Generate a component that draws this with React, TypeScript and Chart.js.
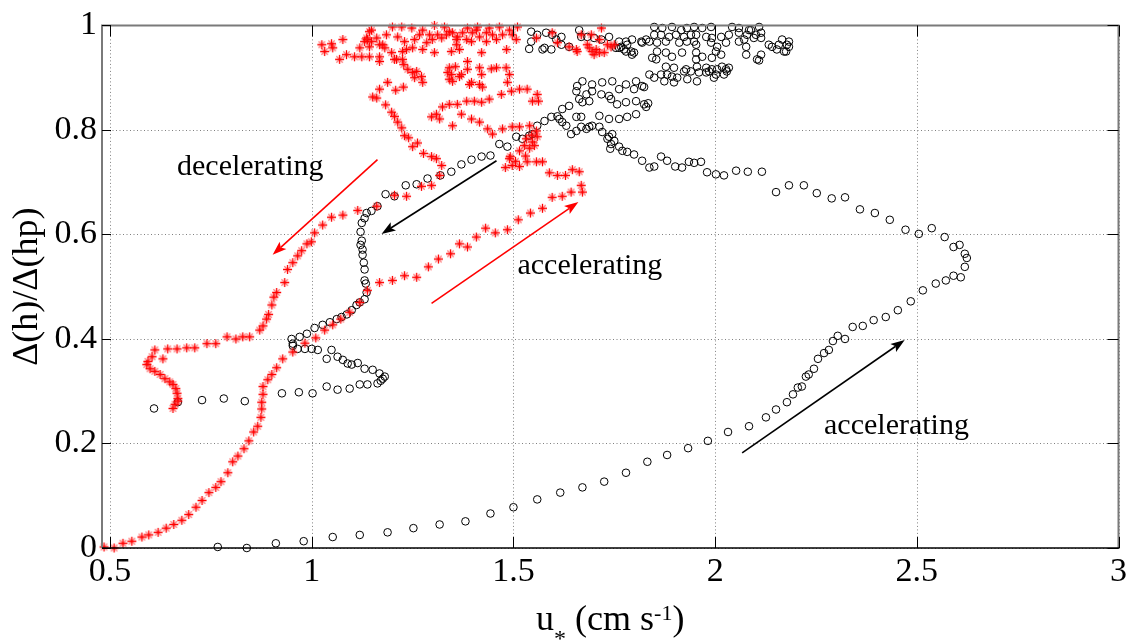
import React, { useEffect, useRef } from "react";
import { Chart, registerables } from "chart.js";

Chart.register(...registerables);

const SERIF = '"Liberation Serif", "Times New Roman", serif';

// Axis ticks
const xTickValues = [0.5, 1, 1.5, 2, 2.5, 3];
const xTickLabels = ["0.5", "1", "1.5", "2", "2.5", "3"];
const yTickValues = [0, 0.2, 0.4, 0.6, 0.8, 1];
const yTickLabels = ["0", "0.2", "0.4", "0.6", "0.8", "1"];

// Red run (*): [u*, Δ(h)/Δ(hp)]
const redRise: [number, number][] = [
  [0.485, 0.002], [0.51, 0.0], [0.532, 0.009], [0.554, 0.013], [0.579, 0.021],
  [0.596, 0.025], [0.619, 0.03], [0.639, 0.038], [0.658, 0.045], [0.678, 0.053],
  [0.695, 0.064], [0.713, 0.078], [0.728, 0.091], [0.745, 0.106], [0.762, 0.116],
  [0.775, 0.127], [0.792, 0.144], [0.804, 0.165], [0.817, 0.176], [0.832, 0.19],
  [0.844, 0.205], [0.856, 0.222], [0.866, 0.233], [0.874, 0.25], [0.876, 0.266],
  [0.876, 0.279], [0.879, 0.294], [0.879, 0.309], [0.891, 0.322], [0.901, 0.332],
  [0.913, 0.345], [0.928, 0.362], [0.953, 0.375], [0.983, 0.392], [1.01, 0.402],
  [1.032, 0.417], [1.052, 0.427], [1.072, 0.438], [1.094, 0.451], [1.119, 0.47],
  [1.138, 0.493], [1.168, 0.508], [1.2, 0.512], [1.23, 0.521], [1.26, 0.518],
  [1.289, 0.538], [1.314, 0.553], [1.344, 0.563], [1.366, 0.582], [1.386, 0.576],
  [1.408, 0.595], [1.431, 0.612], [1.455, 0.603], [1.485, 0.609], [1.512, 0.628],
  [1.542, 0.641], [1.572, 0.65], [1.596, 0.671], [1.621, 0.673], [1.643, 0.681],
  [1.671, 0.681], [1.668, 0.694],
];

const redLoop: [number, number][] = [
  [1.663, 0.72], [1.646, 0.724], [1.629, 0.713], [1.609, 0.713], [1.589, 0.718],
  [1.572, 0.739], [1.557, 0.739], [1.534, 0.739], [1.515, 0.73], [1.497, 0.732],
  [1.48, 0.728], [1.492, 0.749], [1.49, 0.745], [1.505, 0.74], [1.53, 0.75],
  [1.515, 0.76], [1.54, 0.765], [1.527, 0.77], [1.552, 0.77], [1.547, 0.777],
  [1.532, 0.783], [1.559, 0.787], [1.545, 0.79], [1.557, 0.798], [1.54, 0.808],
  [1.515, 0.806], [1.497, 0.806], [1.473, 0.802], [1.448, 0.792], [1.436, 0.802],
  [1.416, 0.815], [1.396, 0.821], [1.371, 0.83], [1.349, 0.808], [1.317, 0.821],
  [1.297, 0.825], [1.309, 0.83], [1.324, 0.844], [1.341, 0.849], [1.361, 0.849],
  [1.384, 0.855], [1.403, 0.855], [1.421, 0.853], [1.44, 0.859], [1.47, 0.868],
  [1.495, 0.874], [1.515, 0.878], [1.534, 0.878], [1.559, 0.868], [1.562, 0.855],
  [1.547, 0.855], [1.485, 0.891], [1.49, 0.906], [1.482, 0.919], [1.458, 0.919],
  [1.445, 0.917], [1.423, 0.882], [1.421, 0.906], [1.416, 0.919], [1.396, 0.891],
  [1.386, 0.916], [1.386, 0.931], [1.371, 0.906], [1.349, 0.893], [1.341, 0.897],
  [1.337, 0.91], [1.341, 0.919], [1.356, 0.921], [1.346, 0.906], [1.366, 0.902],
  [1.391, 0.887], [1.416, 0.887],
];

const redTop: [number, number][] = [
  [1.025, 0.963], [1.032, 0.95], [1.049, 0.965], [1.052, 0.957], [1.069, 0.935],
  [1.077, 0.973], [1.086, 0.944], [1.106, 0.94], [1.124, 0.94], [1.119, 0.957],
  [1.136, 0.976], [1.143, 0.988], [1.148, 0.969], [1.138, 0.973], [1.143, 0.959],
  [1.161, 0.976], [1.168, 0.963], [1.181, 0.957], [1.185, 0.982], [1.198, 0.948],
  [1.205, 0.935], [1.2, 0.997], [1.148, 0.991], [1.131, 0.969], [1.168, 0.94],
  [1.143, 0.94], [1.168, 0.931], [1.176, 0.963], [1.213, 0.978], [1.223, 0.997],
  [1.23, 0.969], [1.235, 0.954], [1.21, 0.935], [1.225, 0.935], [1.228, 0.925],
  [1.25, 0.957], [1.255, 0.973], [1.248, 0.995], [1.267, 0.982], [1.285, 0.967],
  [1.275, 0.954], [1.275, 0.991], [1.292, 0.982], [1.299, 0.973], [1.304, 1.0],
  [1.329, 0.997], [1.312, 0.982], [1.334, 0.982], [1.349, 0.986], [1.359, 0.973],
  [1.346, 0.95], [1.304, 0.948], [1.322, 0.976], [1.341, 0.988], [1.361, 0.978],
  [1.366, 0.954], [1.359, 0.963], [1.386, 0.995], [1.384, 0.973], [1.374, 0.986],
  [1.398, 0.986], [1.411, 0.997], [1.416, 0.978], [1.396, 0.969], [1.408, 0.991],
  [1.433, 0.986], [1.448, 0.982], [1.433, 0.969], [1.421, 0.948], [1.44, 0.995],
  [1.458, 0.973], [1.465, 0.997], [1.473, 0.982], [1.49, 0.991], [1.497, 0.982],
  [1.507, 0.973], [1.51, 0.997], [1.483, 0.954], [1.238, 0.916], [1.25, 0.91],
  [1.26, 0.912], [1.272, 0.902], [1.275, 0.891], [1.255, 0.9], [1.225, 0.95],
  [1.557, 0.976], [1.596, 0.986], [1.609, 0.967], [1.638, 0.959], [1.658, 0.95],
  [1.668, 0.982], [1.693, 0.982], [1.688, 0.957], [1.695, 0.95], [1.7, 0.944],
  [1.713, 0.948], [1.725, 0.948], [1.718, 0.995], [1.713, 0.973], [1.733, 0.963],
  [1.742, 0.959], [1.75, 0.963], [1.683, 0.963], [1.705, 0.954], [1.656, 0.954],
];

const redFall: [number, number][] = [
  [1.227, 0.882], [1.208, 0.876], [1.188, 0.891], [1.168, 0.878], [1.161, 0.861],
  [1.151, 0.863], [1.183, 0.848], [1.198, 0.834], [1.205, 0.826], [1.213, 0.815],
  [1.223, 0.804], [1.23, 0.789], [1.24, 0.785], [1.25, 0.768], [1.262, 0.775],
  [1.277, 0.755], [1.297, 0.749], [1.309, 0.745], [1.322, 0.732], [1.317, 0.713],
  [1.297, 0.694], [1.272, 0.692], [1.235, 0.673], [1.205, 0.675], [1.161, 0.654],
  [1.114, 0.646], [1.077, 0.637], [1.049, 0.633], [1.027, 0.618], [1.007, 0.603],
  [0.999, 0.586], [0.988, 0.582], [0.975, 0.569], [0.965, 0.559], [0.953, 0.546],
  [0.94, 0.533], [0.933, 0.508], [0.913, 0.489], [0.906, 0.48], [0.901, 0.465],
  [0.893, 0.447], [0.888, 0.438], [0.879, 0.425], [0.871, 0.417], [0.846, 0.404],
  [0.829, 0.404], [0.812, 0.4], [0.79, 0.404], [0.762, 0.391], [0.74, 0.391],
  [0.71, 0.383], [0.69, 0.383], [0.666, 0.381], [0.643, 0.381], [0.631, 0.362],
  [0.611, 0.379], [0.604, 0.366], [0.594, 0.357], [0.591, 0.351], [0.599, 0.343],
  [0.611, 0.338], [0.624, 0.332], [0.636, 0.324], [0.648, 0.318], [0.656, 0.313],
  [0.663, 0.305], [0.666, 0.296], [0.668, 0.286], [0.668, 0.281], [0.661, 0.275],
  [0.656, 0.267],
];

// Black run (o): [u*, Δ(h)/Δ(hp)]
const blackRise: [number, number][] = [
  [0.767, 0.002], [0.839, 0.0], [0.911, 0.009], [0.98, 0.013], [1.052, 0.021],
  [1.119, 0.025], [1.188, 0.03], [1.252, 0.038], [1.317, 0.045], [1.381, 0.051],
  [1.443, 0.066], [1.5, 0.078], [1.559, 0.093], [1.616, 0.106], [1.671, 0.116],
  [1.725, 0.127], [1.779, 0.144], [1.832, 0.165], [1.881, 0.178], [1.933, 0.191],
  [1.982, 0.205], [2.032, 0.222], [2.084, 0.233], [2.126, 0.25], [2.151, 0.265],
  [2.178, 0.279], [2.193, 0.294], [2.205, 0.307], [2.215, 0.309], [2.225, 0.328],
  [2.232, 0.332], [2.245, 0.343], [2.255, 0.362], [2.27, 0.373], [2.282, 0.379],
  [2.292, 0.396], [2.304, 0.406], [2.322, 0.4], [2.341, 0.423], [2.366, 0.425],
  [2.393, 0.436], [2.423, 0.442], [2.453, 0.455], [2.485, 0.472], [2.515, 0.493],
  [2.547, 0.506], [2.572, 0.512], [2.591, 0.521], [2.609, 0.518], [2.619, 0.538],
  [2.624, 0.555], [2.619, 0.563], [2.606, 0.58], [2.591, 0.576], [2.569, 0.595],
  [2.537, 0.612], [2.505, 0.601], [2.472, 0.609], [2.433, 0.628], [2.396, 0.641],
  [2.359, 0.648], [2.322, 0.671], [2.289, 0.669], [2.252, 0.679], [2.22, 0.694],
  [2.183, 0.694], [2.151, 0.681], [2.116, 0.72], [2.081, 0.72], [2.052, 0.722],
  [2.022, 0.713], [2.002, 0.715], [1.98, 0.719], [1.965, 0.739], [1.948, 0.737],
  [1.935, 0.739], [1.918, 0.728], [1.901, 0.73], [1.881, 0.741], [1.866, 0.749],
  [1.849, 0.73], [1.837, 0.728], [1.819, 0.741], [1.799, 0.753], [1.782, 0.758],
  [1.77, 0.76], [1.762, 0.768], [1.75, 0.779], [1.742, 0.773], [1.737, 0.787],
  [1.745, 0.792], [1.74, 0.764], [1.733, 0.783], [1.72, 0.796], [1.713, 0.806],
  [1.695, 0.808], [1.681, 0.802], [1.668, 0.806], [1.656, 0.798], [1.643, 0.792],
  [1.631, 0.808], [1.621, 0.815], [1.614, 0.821],
];

const blackFall: [number, number][] = [
  [1.609, 0.826], [1.594, 0.825], [1.577, 0.817], [1.559, 0.808], [1.547, 0.792],
  [1.539, 0.789], [1.522, 0.783], [1.507, 0.787], [1.485, 0.768], [1.465, 0.773],
  [1.443, 0.751], [1.421, 0.749], [1.396, 0.743], [1.371, 0.734], [1.346, 0.72],
  [1.319, 0.713], [1.287, 0.707], [1.26, 0.696], [1.233, 0.694], [1.205, 0.673],
  [1.183, 0.677], [1.163, 0.654], [1.148, 0.645], [1.136, 0.641], [1.131, 0.631],
  [1.124, 0.622], [1.121, 0.605], [1.124, 0.588], [1.121, 0.58], [1.126, 0.571],
  [1.126, 0.561], [1.129, 0.546], [1.131, 0.533], [1.131, 0.512], [1.134, 0.506],
  [1.136, 0.489], [1.131, 0.476], [1.119, 0.47], [1.111, 0.465], [1.099, 0.455],
  [1.087, 0.447], [1.074, 0.442], [1.062, 0.438], [1.045, 0.432], [1.027, 0.427],
  [1.007, 0.421], [0.988, 0.41], [0.97, 0.404], [0.95, 0.4], [0.953, 0.391],
  [0.953, 0.387], [0.965, 0.381], [0.983, 0.381], [1.0, 0.381], [1.015, 0.379],
  [1.049, 0.379], [1.037, 0.362], [1.064, 0.366], [1.077, 0.36], [1.089, 0.353],
  [1.099, 0.351], [1.114, 0.354], [1.131, 0.343], [1.151, 0.341], [1.168, 0.334],
  [1.176, 0.324], [1.181, 0.328], [1.171, 0.32], [1.163, 0.315], [1.138, 0.313],
  [1.119, 0.313], [1.094, 0.305], [1.064, 0.303], [1.037, 0.309], [1.002, 0.296],
  [0.968, 0.298], [0.926, 0.296], [0.834, 0.281], [0.782, 0.286], [0.728, 0.283],
  [0.668, 0.279], [0.609, 0.267],
];

const blackTop: [number, number][] = [
  [1.668, 0.825], [1.656, 0.825], [1.713, 0.827], [1.737, 0.821], [1.762, 0.821],
  [1.782, 0.825], [1.804, 0.83], [1.829, 0.844], [1.824, 0.849], [1.834, 0.851],
  [1.804, 0.855], [1.779, 0.853], [1.757, 0.849], [1.737, 0.865], [1.718, 0.868],
  [1.695, 0.874], [1.681, 0.868], [1.663, 0.859], [1.656, 0.874], [1.658, 0.884],
  [1.671, 0.893], [1.695, 0.887], [1.72, 0.891], [1.745, 0.893], [1.762, 0.878],
  [1.779, 0.887], [1.804, 0.893], [1.824, 0.882], [1.671, 0.853], [1.688, 0.855],
  [1.742, 0.859], [1.638, 0.846], [1.621, 0.84], [1.688, 0.806], [1.819, 0.884],
  [1.799, 0.878], [1.837, 0.906], [1.849, 0.9], [1.866, 0.906], [1.881, 0.906],
  [1.874, 0.893], [1.893, 0.902], [1.898, 0.891], [1.906, 0.9], [1.923, 0.912],
  [1.931, 0.897], [1.94, 0.912], [1.955, 0.893], [1.96, 0.91], [1.978, 0.91],
  [1.985, 0.912], [1.997, 0.9], [2.002, 0.906], [2.022, 0.906], [2.027, 0.916],
  [2.029, 0.912], [2.034, 0.919], [2.017, 0.921], [2.005, 0.916], [1.992, 0.916],
  [1.978, 0.919], [1.955, 0.921], [1.928, 0.916], [1.898, 0.919], [1.878, 0.921],
  [1.849, 0.997], [1.869, 0.995], [1.893, 0.997], [1.916, 0.991], [1.93, 0.995],
  [1.948, 0.997], [1.968, 0.995], [1.99, 0.997], [2.042, 0.997], [2.059, 0.995],
  [2.084, 0.991], [2.109, 0.997], [1.849, 0.982], [1.866, 0.982], [1.886, 0.978],
  [1.903, 0.982], [1.923, 0.978], [1.94, 0.982], [1.953, 0.982], [1.978, 0.978],
  [1.992, 0.976], [2.015, 0.978], [2.034, 0.982], [2.059, 0.986], [2.079, 0.982],
  [2.101, 0.982], [2.114, 0.986], [1.837, 0.969], [1.856, 0.967], [1.878, 0.969],
  [1.911, 0.967], [1.93, 0.969], [1.953, 0.963], [1.99, 0.967], [2.005, 0.959],
  [2.027, 0.967], [2.059, 0.969], [1.817, 0.969], [1.794, 0.973], [1.782, 0.963],
  [1.762, 0.957], [1.774, 0.954], [1.792, 0.95], [1.799, 0.948], [1.829, 0.973],
  [2.141, 0.959], [2.158, 0.963], [2.176, 0.95], [2.178, 0.963], [2.133, 0.963],
  [1.856, 0.95], [1.878, 0.948], [1.893, 0.94], [1.918, 0.948], [1.953, 0.948],
  [1.968, 0.94], [1.992, 0.938], [2.015, 0.944], [2.002, 0.95], [1.854, 0.935],
  [1.953, 0.935], [2.077, 0.944], [2.104, 0.935], [2.114, 0.944], [2.089, 0.991],
  [2.114, 0.976], [2.096, 0.976], [2.072, 0.973], [2.077, 0.959], [2.109, 0.933],
  [2.153, 0.954], [2.166, 0.973], [2.183, 0.969], [2.183, 0.959], [2.171, 0.95],
  [1.844, 0.938], [1.948, 0.969], [1.544, 0.988], [1.559, 0.982], [1.581, 0.986],
  [1.596, 0.982], [1.619, 0.978], [1.544, 0.969], [1.577, 0.957], [1.594, 0.954],
  [1.539, 0.955], [1.619, 0.963], [1.638, 0.959], [1.663, 0.991], [1.668, 0.978],
  [1.683, 0.978], [1.7, 0.976], [1.718, 0.973], [1.737, 0.978], [1.762, 0.969],
  [1.779, 0.969], [1.819, 0.967], [1.767, 0.959], [1.779, 0.95], [1.794, 0.944],
  [1.754, 0.957], [1.606, 0.973], [1.572, 0.954],
];

// Direction arrows: [u*, Δ(h)/Δ(hp)] of tail and head
const arrows = [
  { from: [1.163, 0.743], to: [0.903, 0.561], color: "#ff0000" },
  { from: [1.458, 0.741], to: [1.173, 0.601], color: "#000000" },
  { from: [1.297, 0.468], to: [1.661, 0.662], color: "#ff0000" },
  { from: [2.067, 0.182], to: [2.47, 0.398], color: "#000000" },
];

// Text notes anchored at the left end of their baseline
const notes = [
  { text: "decelerating", at: [0.666, 0.713] },
  { text: "accelerating", at: [1.51, 0.525] },
  { text: "accelerating", at: [2.27, 0.218] },
];

const toXY = (pts: [number, number][]) => pts.map(([u, h]) => ({ x: u, y: h }));

// '*' marker: solid upright cross with a lighter diagonal cross
function makeStarMarker(): HTMLCanvasElement {
  const c = document.createElement("canvas");
  c.width = 11;
  c.height = 11;
  const g = c.getContext("2d")!;
  g.lineCap = "butt";
  g.strokeStyle = "rgba(255,40,40,0.6)";
  g.lineWidth = 1.3;
  g.beginPath();
  g.moveTo(2.3, 2.3);
  g.lineTo(8.7, 8.7);
  g.moveTo(8.7, 2.3);
  g.lineTo(2.3, 8.7);
  g.stroke();
  g.strokeStyle = "#ff0000";
  g.lineWidth = 1.3;
  g.beginPath();
  g.moveTo(5.5, 1);
  g.lineTo(5.5, 10);
  g.moveTo(1, 5.5);
  g.lineTo(10, 5.5);
  g.stroke();
  return c;
}

function drawArrow(ctx: CanvasRenderingContext2D, x0: number, y0: number, x1: number, y1: number, color: string) {
  const ang = Math.atan2(y1 - y0, x1 - x0);
  const headLen = 14;
  const headHalf = 5;
  const bx = x1 - headLen * Math.cos(ang);
  const by = y1 - headLen * Math.sin(ang);
  ctx.strokeStyle = color;
  ctx.fillStyle = color;
  ctx.lineWidth = 1.6;
  ctx.setLineDash([]);
  ctx.beginPath();
  ctx.moveTo(x0, y0);
  ctx.lineTo(bx + 3 * Math.cos(ang), by + 3 * Math.sin(ang));
  ctx.stroke();
  ctx.beginPath();
  ctx.moveTo(x1, y1);
  ctx.lineTo(bx + headHalf * Math.sin(ang), by - headHalf * Math.cos(ang));
  ctx.lineTo(bx + 3 * Math.cos(ang), by + 3 * Math.sin(ang));
  ctx.lineTo(bx - headHalf * Math.sin(ang), by + headHalf * Math.cos(ang));
  ctx.closePath();
  ctx.fill();
}

const axesPlugin = {
  id: "matlabAxes",
  beforeDatasetsDraw(chart: any) {
    const { ctx, chartArea: a, scales } = chart;
    const xs = scales.x;
    const ys = scales.y;
    ctx.save();
    ctx.strokeStyle = "#808080";
    ctx.lineWidth = 1;
    ctx.setLineDash([1, 2.5]);
    for (const v of xTickValues) {
      const px = Math.round(xs.getPixelForValue(v)) + 0.5;
      ctx.beginPath();
      ctx.moveTo(px, a.top);
      ctx.lineTo(px, a.bottom);
      ctx.stroke();
    }
    for (const v of yTickValues) {
      const py = Math.round(ys.getPixelForValue(v)) + 0.5;
      ctx.beginPath();
      ctx.moveTo(a.left, py);
      ctx.lineTo(a.right, py);
      ctx.stroke();
    }
    ctx.restore();
  },
  afterDatasetsDraw(chart: any) {
    const { ctx, chartArea: a, scales } = chart;
    const xs = scales.x;
    const ys = scales.y;
    ctx.save();
    ctx.setLineDash([]);
    // frame
    ctx.strokeStyle = "#7a7a7a";
    ctx.lineWidth = 2;
    ctx.beginPath();
    ctx.moveTo(a.left, a.bottom);
    ctx.lineTo(a.left, a.top);
    ctx.lineTo(a.right, a.top);
    ctx.lineTo(a.right, a.bottom);
    ctx.stroke();
    ctx.strokeStyle = "#000";
    ctx.lineWidth = 1.5;
    ctx.beginPath();
    ctx.moveTo(a.left, a.bottom);
    ctx.lineTo(a.right + 1, a.bottom);
    ctx.stroke();
    // inward tick marks
    ctx.lineWidth = 1;
    ctx.strokeStyle = "#000";
    for (const v of xTickValues) {
      const px = Math.round(xs.getPixelForValue(v)) + 0.5;
      ctx.beginPath();
      ctx.moveTo(px, a.bottom);
      ctx.lineTo(px, a.bottom - 11);
      ctx.moveTo(px, a.top);
      ctx.lineTo(px, a.top + 11);
      ctx.stroke();
    }
    for (const v of yTickValues) {
      const py = Math.round(ys.getPixelForValue(v)) + 0.5;
      ctx.beginPath();
      ctx.moveTo(a.left, py);
      ctx.lineTo(a.left + 9, py);
      ctx.moveTo(a.right, py);
      ctx.lineTo(a.right - 11, py);
      ctx.stroke();
    }
    ctx.restore();
  },
  afterDraw(chart: any) {
    const { ctx, chartArea: a, scales } = chart;
    const xs = scales.x;
    const ys = scales.y;
    ctx.save();
    ctx.fillStyle = "#000";

    // arrows
    for (const ar of arrows) {
      drawArrow(
        ctx,
        xs.getPixelForValue(ar.from[0]),
        ys.getPixelForValue(ar.from[1]),
        xs.getPixelForValue(ar.to[0]),
        ys.getPixelForValue(ar.to[1]),
        ar.color
      );
    }

    // notes
    ctx.fillStyle = "#000";
    ctx.font = `30px ${SERIF}`;
    ctx.textAlign = "left";
    ctx.textBaseline = "alphabetic";
    for (const n of notes) {
      ctx.fillText(n.text, xs.getPixelForValue(n.at[0]), ys.getPixelForValue(n.at[1]));
    }

    // x title: u* (cm s^-1)
    const big = `36px ${SERIF}`;
    const small = `24px ${SERIF}`;
    const sup = `22px ${SERIF}`;
    const parts = [
      { t: "u", f: big, dy: 0 },
      { t: "*", f: small, dy: 16 },
      { t: " (cm s", f: big, dy: 0 },
      { t: "-1", f: sup, dy: -10 },
      { t: ")", f: big, dy: 0 },
    ];
    let total = 0;
    for (const p of parts) {
      ctx.font = p.f;
      total += ctx.measureText(p.t).width;
    }
    let cx = (a.left + a.right) / 2 - total / 2;
    const base = 630;
    for (const p of parts) {
      ctx.font = p.f;
      ctx.fillText(p.t, cx, base + p.dy);
      cx += ctx.measureText(p.t).width;
    }

    // y title
    ctx.save();
    ctx.font = `36px ${SERIF}`;
    ctx.textAlign = "center";
    ctx.textBaseline = "alphabetic";
    ctx.translate(37, (a.top + a.bottom) / 2);
    ctx.rotate(-Math.PI / 2);
    ctx.fillText("\u0394(h)/\u0394(hp)", 0, 0);
    ctx.restore();

    ctx.restore();
  },
};

export default function App() {
  const canvasRef = useRef<HTMLCanvasElement | null>(null);

  useEffect(() => {
    const canvas = canvasRef.current;
    if (!canvas) return;
    const tickFont = { family: SERIF, size: 34 };
    const star = makeStarMarker();
    const chart = new Chart(canvas, {
      type: "scatter",
      data: {
        datasets: [
          {
            label: "red",
            data: toXY([...redRise, ...redLoop, ...redTop, ...redFall]),
            pointStyle: star,
            pointRadius: 4.5,
            borderColor: "#ff0000",
            backgroundColor: "#ff0000",
            showLine: false,
            clip: false,
            order: 0,
          } as any,
          {
            label: "black",
            data: toXY([...blackRise, ...blackFall, ...blackTop]),
            pointStyle: "circle",
            pointRadius: 3.8,
            pointBorderWidth: 1,
            borderColor: "#000000",
            backgroundColor: "rgba(0,0,0,0)",
            showLine: false,
            clip: false,
            order: 1,
          } as any,
        ],
      },
      options: {
        responsive: false,
        animation: false,
        events: [],
        layout: { padding: { left: 0, top: 20, right: 10, bottom: 0 } },
        plugins: { legend: { display: false }, tooltip: { enabled: false } },
        scales: {
          x: {
            type: "linear",
            min: 0.48,
            max: 3,
            afterBuildTicks: (s: any) => {
              s.ticks = xTickValues.map((value) => ({ value }));
            },
            afterFit: (s: any) => {
              s.height = 95;
            },
            grid: { display: false, drawTicks: false },
            border: { display: false },
            ticks: {
              font: tickFont,
              color: "#000",
              padding: 4,
              autoSkip: false,
              maxRotation: 0,
              callback: (_v: any, i: number) => xTickLabels[i],
            },
          },
          y: {
            type: "linear",
            min: 0,
            max: 1,
            afterBuildTicks: (s: any) => {
              s.ticks = yTickValues.map((value) => ({ value }));
            },
            afterFit: (s: any) => {
              s.width = 102;
            },
            grid: { display: false, drawTicks: false },
            border: { display: false },
            ticks: {
              font: tickFont,
              color: "#000",
              padding: 5,
              autoSkip: false,
              callback: (_v: any, i: number) => yTickLabels[i],
            },
          },
        },
      },
      plugins: [axesPlugin],
    });
    return () => chart.destroy();
  }, []);

  return (
    <div style={{ position: "fixed", left: 0, top: 0, width: 1131, height: 643, background: "#fff" }}>
      <canvas ref={canvasRef} width={1131} height={643} style={{ display: "block" }} />
    </div>
  );
}
